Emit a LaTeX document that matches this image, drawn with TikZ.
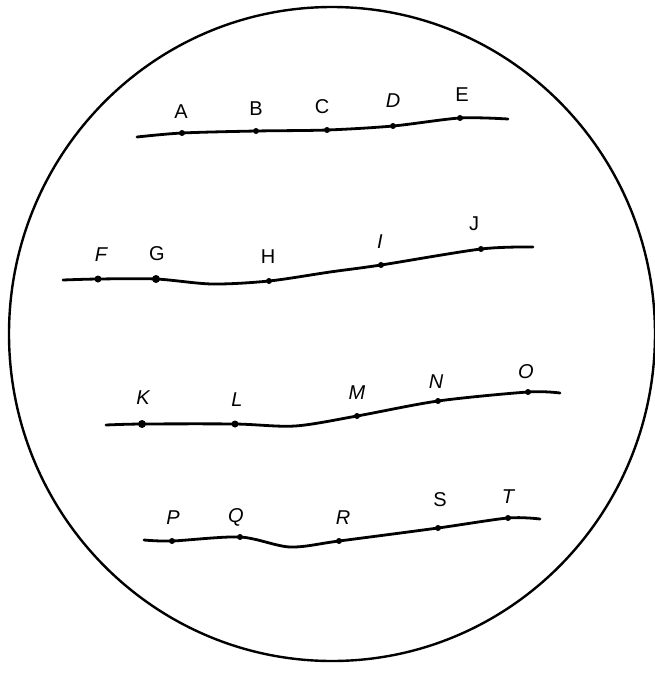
\documentclass[tikz,border=0pt]{standalone}
\usepackage{fontspec}
\setmainfont{Liberation Sans}
\begin{document}
\begin{tikzpicture}[x=1pt,y=-1pt,
  pt/.style={circle,fill=black,inner sep=0pt,minimum size=6pt},
  lab/.style={font=\fontsize{20}{20}\selectfont,inner sep=0pt},
  wire/.style={line width=2.8pt,line cap=round,line join=round}]
\useasboundingbox (0,0) rectangle (655,673);
\fill[white] (0,0) rectangle (655,673);
\draw[line width=2.4pt] (332,334) ellipse [x radius=323, y radius=327];
% line 1
\coordinate (s1) at (137,137);
\coordinate (e1) at (508,119);
\node[pt] (A) at (182,133) {};
\node[pt] (B) at (256,131) {};
\node[pt] (C) at (327,130) {};
\node[pt] (D) at (393,126) {};
\node[pt] (E) at (460,118) {};
\draw[wire] plot[smooth,tension=0.5] coordinates {(s1) (A) (B) (C) (D) (E) (e1)};
\node[lab] (lA) at (181,112) {A};
\node[lab] (lB) at (256,109) {B};
\node[lab] (lC) at (322,107) {C};
\node[lab] (lD) at (393,101) {\itshape D};
\node[lab] (lE) at (462,95) {E};
% line 2
\coordinate (s2) at (63,280);
\coordinate (e2) at (533,247);
\node[pt,minimum size=7pt] (F) at (98,279) {};
\node[pt,minimum size=8pt] (G) at (156,279) {};
\node[pt] (H) at (269,281) {};
\node[pt] (I) at (381,265) {};
\node[pt] (J) at (481,249) {};
\draw[wire] plot[smooth,tension=0.5] coordinates {(s2) (F) (G) (212,284) (H) (330,272) (I) (J) (e2)};
\node[lab] (lF) at (101,255) {\itshape F};
\node[lab] (lG) at (157,254) {G};
\node[lab] (lH) at (268,257) {H};
\node[lab] (lI) at (380,242) {\itshape I};
\node[lab] (lJ) at (474,224) {J};
% line 3
\coordinate (s3) at (106,425);
\coordinate (e3) at (560,393);
\node[pt,minimum size=8pt] (K) at (142,424) {};
\node[pt,minimum size=7pt] (L) at (235,424) {};
\node[pt] (M) at (357,416) {};
\node[pt] (N) at (438,401) {};
\node[pt] (O) at (528,392) {};
\draw[wire] plot[smooth,tension=0.5] coordinates {(s3) (K) (L) (295,426) (M) (N) (O) (e3)};
\node[lab] (lK) at (143,398) {\itshape K};
\node[lab] (lL) at (237,400) {\itshape L};
\node[lab] (lM) at (357,393) {\itshape M};
\node[lab] (lN) at (436,382) {\itshape N};
\node[lab] (lO) at (526,372) {\itshape O};
% line 4
\coordinate (s4) at (144,540);
\coordinate (e4) at (540,519);
\node[pt] (P) at (172,541) {};
\node[pt] (Q) at (240,537) {};
\node[pt] (R) at (339,541) {};
\node[pt] (S) at (438,528) {};
\node[pt] (T) at (508,518) {};
\draw[wire] plot[smooth,tension=0.5] coordinates {(s4) (P) (Q) (290,547) (R) (S) (T) (e4)};
\node[lab] (lP) at (173,518) {\itshape P};
\node[lab] (lQ) at (236,517) {\itshape Q};
\node[lab] (lR) at (343,518) {\itshape R};
\node[lab] (lS) at (440,500) {S};
\node[lab] (lT) at (508,497) {\itshape T};
\end{tikzpicture}
\end{document}
